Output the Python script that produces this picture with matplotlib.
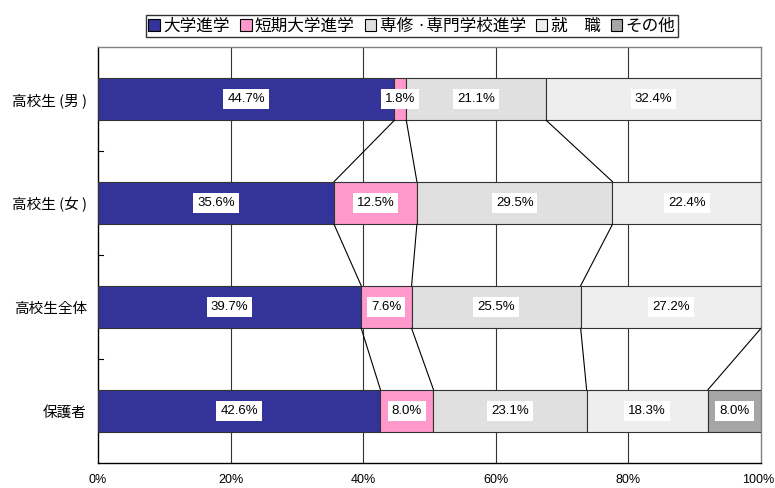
import matplotlib
matplotlib.use("Agg")
import matplotlib.pyplot as plt
import matplotlib.transforms as mtransforms
import numpy as np
from matplotlib.patches import Patch

plt.rcParams['font.family'] = ['Liberation Sans', 'Noto Sans CJK JP', 'DejaVu Sans']

categories = ["高校生 (男 )", "高校生 (女 )", "高校生全体", "保護者"]
series_names = ["大学進学", "短期大学進学", "専修 ·専門学校進学", "就　職", "その他"]
univ = [44.7, 35.6, 39.7, 42.6]
junior = [1.8, 12.5, 7.6, 8.0]
vocational = [21.1, 29.5, 25.5, 23.1]
employment = [32.4, 22.4, 27.2, 18.3]
other = [0.0, 0.0, 0.0, 8.0]
xtick_labels = ["0%", "20%", "40%", "60%", "80%", "100%"]

colors = ["#333399", "#FF99CC", "#E0E0E0", "#EEEEEE", "#A6A6A6"]
data = np.array([univ, junior, vocational, employment, other])

fig = plt.figure(figsize=(7.75, 4.88), dpi=100)
ax = fig.add_axes([98/775, 1-463/488, (761-98)/775, (463-47)/488])

y = np.arange(len(categories))
h = 0.41
left = np.zeros(len(categories))
for k in range(data.shape[0]):
    vals = data[k]
    ax.barh(y, vals, left=left, height=h, color=colors[k], edgecolor="#333333",
            linewidth=0.8, zorder=3)
    for i, v in enumerate(vals):
        if v > 0:
            ax.text(left[i] + v/2, y[i], f"{v:.1f}%", ha="center", va="center",
                    fontsize=9.5, color="black", zorder=5,
                    bbox=dict(boxstyle="square,pad=0.3", fc="white", ec="none"))
    left = left + vals

# series lines
cum = np.cumsum(data, axis=0)
for k in range(cum.shape[0] - 1):
    for i in range(len(categories) - 1):
        ax.plot([cum[k][i], cum[k][i+1]], [y[i] + h/2, y[i+1] - h/2],
                color="black", linewidth=0.8, zorder=4)

ax.set_xlim(0, 100)
ax.set_ylim(len(categories) - 0.5, -0.5)
ax.set_xticks(np.arange(0, 101, 20))
ax.set_xticklabels(xtick_labels, fontsize=9)
ax.tick_params(axis="x", length=0, pad=8)
last = ax.get_xticklabels()[-1]
last.set_horizontalalignment("right")
last.set_transform(last.get_transform() +
                   mtransforms.ScaledTranslation(13/100, 0, fig.dpi_scale_trans))
ax.set_yticks(y)
ax.set_yticklabels(categories, fontsize=10.5, family=['Noto Sans CJK JP', 'DejaVu Sans'])
ax.tick_params(axis="y", length=0, pad=8)
for b in [0.5, 1.5, 2.5]:
    ax.plot([0, 0.8], [b, b], color="black", linewidth=0.8, zorder=2, clip_on=False)

for xv in [20, 40, 60, 80]:
    ax.axvline(xv, color="#333333", linewidth=0.8, zorder=1)

for s in ["left", "bottom"]:
    ax.spines[s].set_color("black")
    ax.spines[s].set_linewidth(1.0)
for s in ["top", "right"]:
    ax.spines[s].set_color("#808080")
    ax.spines[s].set_linewidth(1.0)

handles = [Patch(facecolor=c, edgecolor="black", linewidth=0.8) for c in colors]
leg = fig.legend(handles, series_names, loc="center", bbox_to_anchor=(412/775, 1-26/488),
                 ncol=5, frameon=True, fancybox=False, edgecolor="black",
                 prop={'family': ['Noto Sans CJK JP', 'DejaVu Sans'], 'size': 12},
                 handlelength=0.7, handleheight=0.7, handletextpad=0.2,
                 columnspacing=0.6, borderpad=0.15, borderaxespad=0)
leg.get_frame().set_linewidth(1.0)

fig.savefig("out.png", dpi=100)
